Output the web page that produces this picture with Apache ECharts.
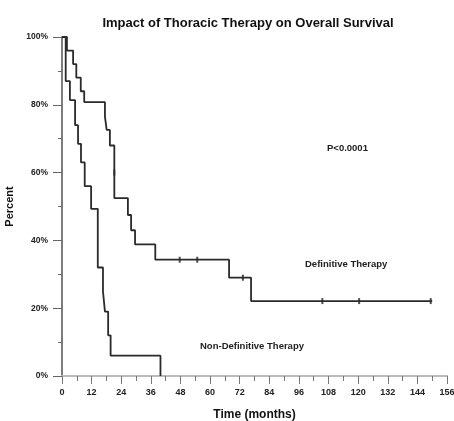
<!DOCTYPE html>
<html>
<head>
<meta charset="utf-8">
<script src="https://cdn.jsdelivr.net/npm/echarts@6/dist/echarts.min.js"></script>
<style>html,body{margin:0;padding:0;background:#fff}#c{width:454px;height:421px}</style>
</head>
<body>
<div id="c"></div>
<script>
// Definitive therapy (upper curve)
const defTimes = [0, 2, 4.5, 5.8, 7.6, 9, 17.4, 18.1, 19.4, 21.2, 26.7, 28, 29.6, 37.8, 67.7, 76.6, 150];
const defSurv  = [100, 96, 92, 88, 84, 80.8, 76.5, 72.6, 68, 52.5, 47.5, 43, 38.8, 34.3, 29, 22.1, 22.1];
const defCensorTimes = [21.2, 47.7, 54.8, 73.3, 105.5, 120.4, 149.4];
const defCensorSurv  = [60, 34.3, 34.3, 29, 22.1, 22.1, 22.1];
// Non-definitive therapy (lower curve)
const nonTimes = [0, 1.5, 3.2, 5.3, 6.5, 7.7, 9.2, 11.8, 14.5, 16.6, 17.4, 18.7, 19.7, 39.9];
const nonSurv  = [100, 87, 81.4, 74, 68.5, 63, 56, 49.3, 32, 25, 19, 12, 6, 0];
const xTicks = [0, 12, 24, 36, 48, 60, 72, 84, 96, 108, 120, 132, 144, 156];
const yTicks = [0, 20, 40, 60, 80, 100];

const pair = (a, b) => a.map((t, i) => [t, b[i]]);
const font = '"Liberation Sans", Arial, sans-serif';
const chart = echarts.init(document.getElementById('c'), null, {renderer: 'canvas'});
chart.setOption({
  animation: false,
  backgroundColor: '#fff',
  title: {
    text: 'Impact of Thoracic Therapy on Overall Survival',
    left: 243, top: 12, textAlign: 'center',
    textStyle: {fontFamily: font, fontSize: 13, fontWeight: 'bold', color: '#111'}
  },
  grid: {left: 62, right: 7, top: 37, bottom: 45, containLabel: false, outerBoundsMode: 'none'},
  xAxis: [{
    type: 'value', min: xTicks[0], max: xTicks[xTicks.length - 1], interval: 12,
    name: 'Time (months)', nameLocation: 'middle', nameGap: 33,
    nameTextStyle: {fontFamily: font, fontSize: 12, fontWeight: 'bold', color: '#111'},
    axisLine: {show: true, lineStyle: {color: '#777', width: 1.5}},
    axisTick: {show: true, length: 8, lineStyle: {color: '#777'}},
    minorTick: {show: true, splitNumber: 2, length: 5, lineStyle: {color: '#777'}},
    axisLabel: {margin: 12, fontFamily: font, fontSize: 9, fontWeight: 'bold', color: '#222'},
    splitLine: {show: false}
  }, {
    type: 'value', position: 'top', min: 0, max: 156,
    axisLine: {show: true, lineStyle: {color: '#bbb', width: 2}},
    axisTick: {show: false}, axisLabel: {show: false}, splitLine: {show: false}
  }],
  yAxis: [{
    type: 'value', min: yTicks[0], max: yTicks[yTicks.length - 1], interval: 20,
    name: 'Percent', nameLocation: 'middle', nameGap: 41,
    nameTextStyle: {fontFamily: font, fontSize: 11, fontWeight: 'bold', color: '#111'},
    axisLine: {show: true, lineStyle: {color: '#666', width: 1.5}},
    axisTick: {show: true, length: 9, lineStyle: {color: '#666'}},
    minorTick: {show: true, splitNumber: 2, length: 4, lineStyle: {color: '#666'}},
    axisLabel: {margin: 14, fontFamily: font, fontSize: 8.5, fontWeight: 'bold', color: '#222', formatter: '{value}%'},
    splitLine: {show: false}
  }, {
    type: 'value', position: 'right', min: 0, max: 100,
    axisLine: {show: true, lineStyle: {color: '#777', width: 1.5}},
    axisTick: {show: false}, axisLabel: {show: false}, splitLine: {show: false}
  }],
  series: [{
    name: 'Definitive Therapy', type: 'line', step: 'end', data: pair(defTimes, defSurv),
    showSymbol: false, lineStyle: {color: '#2a2a2a', width: 1.8}
  }, {
    name: 'Non-Definitive Therapy', type: 'line', step: 'end', data: pair(nonTimes, nonSurv),
    showSymbol: false, lineStyle: {color: '#2a2a2a', width: 1.8}
  }, {
    type: 'scatter', data: pair(defCensorTimes, defCensorSurv),
    symbol: 'rect', symbolSize: [2, 6], itemStyle: {color: '#222'}
  }],
  graphic: [
    {type: 'text', left: 327, top: 143, style: {text: 'P<0.0001', font: 'bold 9.5px ' + font, fill: '#222'}},
    {type: 'text', left: 305, top: 259, style: {text: 'Definitive Therapy', font: 'bold 9.5px ' + font, fill: '#222'}},
    {type: 'text', left: 200, top: 341, style: {text: 'Non-Definitive Therapy', font: 'bold 9.5px ' + font, fill: '#222'}}
  ]
});
</script>
</body>
</html>
